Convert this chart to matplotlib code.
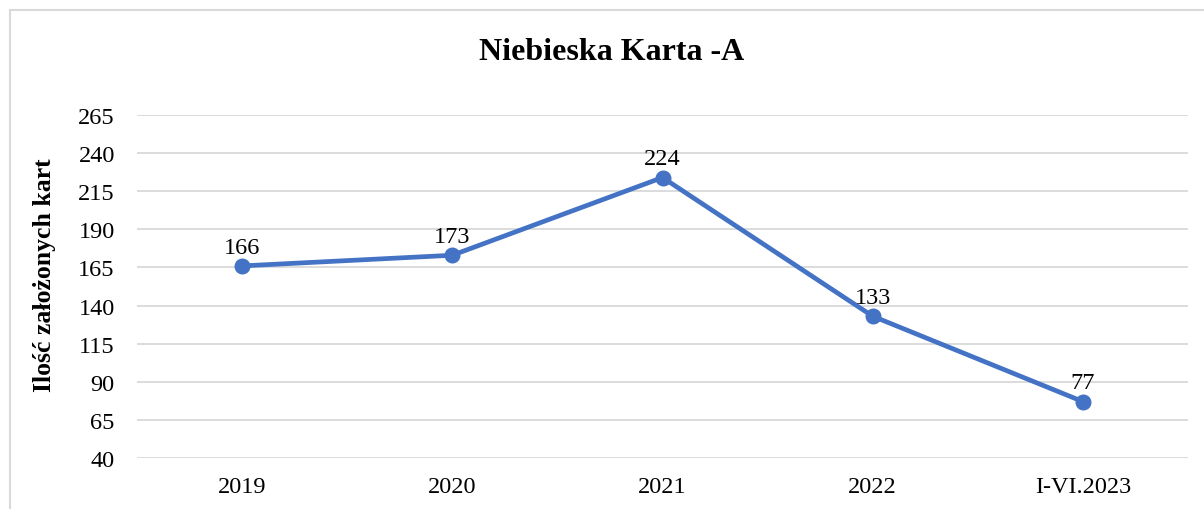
import matplotlib.pyplot as plt
from matplotlib.patches import Rectangle

plt.rcParams['font.family'] = ['Liberation Serif', 'DejaVu Serif']

categories = ["2019", "2020", "2021", "2022", "I-VI.2023"]
values = [166, 173, 224, 133, 77]
yticks = [40, 65, 90, 115, 140, 165, 190, 215, 240, 265]

fig = plt.figure(figsize=(12.04, 5.10), dpi=100)
ax = fig.add_axes([137 / 1204, 51 / 510, 1051 / 1204, 343 / 510])

# chart border
fig.patches.append(Rectangle((10 / 1204, -0.1), 1.2, 1 - 11 / 510 + 0.1,
                             transform=fig.transFigure, fill=False,
                             edgecolor="#d9d9d9", linewidth=1.5))

x = list(range(len(categories)))
ax.plot(x, values, color="#4472C4", linewidth=3.4, marker="o", markersize=10.5,
        solid_capstyle="round", zorder=3)
for xi, v in zip(x, values):
    ax.annotate(str(v), (xi, v), xytext=(0, 6), textcoords="offset points",
                ha="center", va="bottom", fontsize=17.5)

ax.set_xlim(-0.5, len(categories) - 0.5)
ax.set_ylim(40, 265)
ax.set_yticks(yticks)
ax.set_xticks(x)
ax.set_xticklabels(categories)
ax.tick_params(axis="both", length=0, labelsize=17.5)
ax.tick_params(axis="y", pad=16)
ax.tick_params(axis="x", pad=13)
ax.grid(axis="y", color="#d9d9d9", linewidth=1.3)
ax.set_axisbelow(True)
for s in ax.spines.values():
    s.set_visible(False)

fig.text(45 / 1204, 1 - 275 / 510, "Ilość założonych kart", rotation=90,
         ha="center", va="center", fontsize=18.5, fontweight="bold")
fig.text(612 / 1204, 1 - 53 / 510, "Niebieska Karta -A", ha="center", va="center",
         fontsize=23, fontweight="bold")

fig.savefig("out.png", dpi=100)
